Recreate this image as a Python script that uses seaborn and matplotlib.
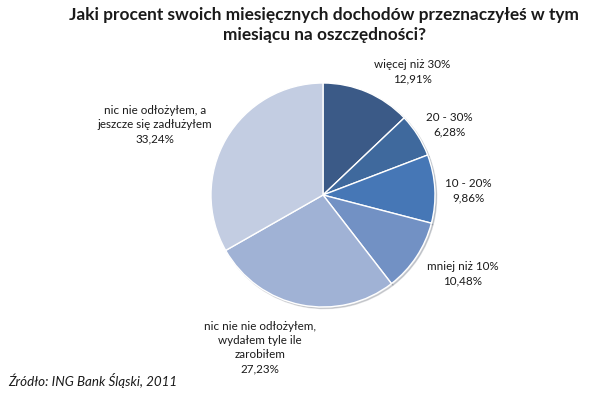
import matplotlib
matplotlib.use("Agg")
import matplotlib.pyplot as plt
import seaborn as sns

categories = [
    "więcej niż 30%",
    "20 - 30%",
    "10 - 20%",
    "mniej niż 10%",
    "nic nie nie odłożyłem,\nwydałem tyle ile\nzarobiłem",
    "nic nie odłożyłem, a\njeszcze się zadłużyłem",
]
values = [12.91, 6.28, 9.86, 10.48, 27.23, 33.24]
value_labels = ["12,91%", "6,28%", "9,86%", "10,48%", "27,23%", "33,24%"]
colors = ["#3B5A87", "#3F699D", "#4677B6", "#7291C4", "#A0B2D5", "#C3CDE2"]
# label anchor positions in pie-radius units
label_pos = [(0.80, 1.10), (1.13, 0.63), (1.30, 0.04), (1.25, -0.70), (-0.56, -1.36), (-1.50, 0.63)]

sns.set_theme(style="white")
plt.rcParams["font.family"] = ["Lato", "DejaVu Sans"]

fig = plt.figure(figsize=(6.16, 3.95), dpi=100)
cx, cy, r = 323, 195, 112
W, H = 616, 395
ax = fig.add_axes([(cx - r) / W, (H - cy - r) / H, 2 * r / W, 2 * r / H])

wedges, _ = ax.pie(
    values,
    colors=colors,
    startangle=90,
    counterclock=False,
    radius=1.0,
    wedgeprops=dict(edgecolor="white", linewidth=1.0),
    shadow=dict(ox=0.01, oy=-0.01, shade=0.6, alpha=0.2),
)
ax.set_xlim(-1, 1)
ax.set_ylim(-1, 1)
ax.set_aspect("equal")
ax.axis("off")

for cat, vl, (x, y) in zip(categories, value_labels, label_pos):
    ax.text(x, y, f"{cat}\n{vl}", ha="center", va="center", fontsize=8.4,
            color="#1a1a1a", linespacing=1.35, clip_on=False)

fig.text(0.526, 0.937, "Jaki procent swoich miesięcznych dochodów przeznaczyłeś w tym\nmiesiącu na oszczędności?",
         ha="center", va="center", fontsize=12.4, fontweight="bold", color="#1a1a1a", linespacing=1.25)
fig.text(8 / W, 1 - 381 / H, "Źródło: ING Bank Śląski, 2011", ha="left", va="center",
         fontsize=9.6, style="italic", color="#1a1a1a")

fig.savefig("out.png", dpi=100, facecolor="white")
